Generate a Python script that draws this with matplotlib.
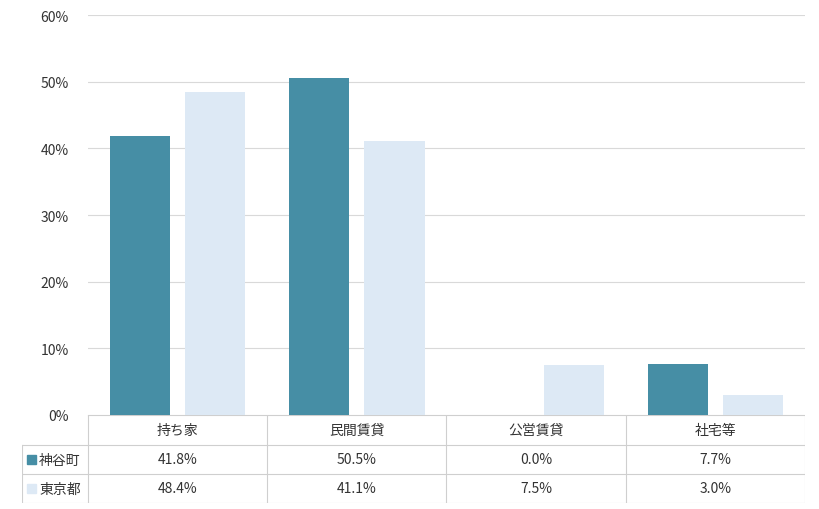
import numpy as np
import matplotlib.pyplot as plt

plt.rcParams['font.family'] = ['Noto Sans CJK JP', 'DejaVu Sans']

categories = ["持ち家", "民間賃貸", "公営賃貸", "社宅等"]
series_names = ["神谷町", "東京都"]
kamiyacho = [41.8, 50.5, 0.0, 7.7]
tokyo = [48.4, 41.1, 7.5, 3.0]
colors = ["#468ea5", "#dde9f5"]

W, H = 820, 510
fig = plt.figure(figsize=(W / 100, H / 100), dpi=100)

# main bar axes
ax = fig.add_axes([88 / W, (H - 416) / H, 717 / W, 400 / H])
x = np.arange(len(categories))
for vals, c, off in zip([kamiyacho, tokyo], colors, [-0.21, 0.21]):
    ax.bar(x + off, vals, width=0.335, color=c, zorder=3)
ax.set_xlim(-0.5, len(categories) - 0.5)
ax.set_ylim(0, 60)
ax.set_yticks(range(0, 61, 10))
ax.set_yticklabels([f"{v}%" for v in range(0, 61, 10)], fontsize=10, color="#333333")
ax.yaxis.grid(True, color="#d9d9d9", lw=0.8, zorder=0)
ax.set_xticks([])
for s in ax.spines.values():
    s.set_visible(False)
ax.tick_params(axis="y", length=0, pad=14)

# data table below
tx0, tx1 = 22, 805
tab = fig.add_axes([tx0 / W, (H - 504) / H, (tx1 - tx0) / W, 88 / H])
tab.set_xlim(tx0, tx1)
tab.set_ylim(504, 416)
tab.axis("off")
lc = "#cfcfcf"
rows_y = [416, 446, 475, 504]
col_x = [88 + i * 179.25 for i in range(5)]
for y in rows_y:
    tab.plot([88 if y == 416 else tx0, tx1], [y, y], color=lc, lw=0.8)
tab.plot([tx0, tx0], [446, 504], color=lc, lw=0.8)
for cx in col_x:
    tab.plot([cx, cx], [416, 504], color=lc, lw=0.8)
for i, cat in enumerate(categories):
    cx = (col_x[i] + col_x[i + 1]) / 2
    tab.text(cx, 431, cat, ha="center", va="center", fontsize=10, color="#333333")
for r, (name, vals, c) in enumerate(zip(series_names, [kamiyacho, tokyo], colors)):
    cy = (rows_y[r + 1] + rows_y[r + 2]) / 2
    tab.add_patch(plt.Rectangle((27, cy - 4.5), 9, 9, color=c))
    tab.text(39, cy, name, ha="left", va="center", fontsize=10, color="#333333")
    for i, v in enumerate(vals):
        cx = (col_x[i] + col_x[i + 1]) / 2
        tab.text(cx, cy, f"{v:.1f}%", ha="center", va="center", fontsize=10, color="#333333")

fig.savefig("out.png", dpi=100)
